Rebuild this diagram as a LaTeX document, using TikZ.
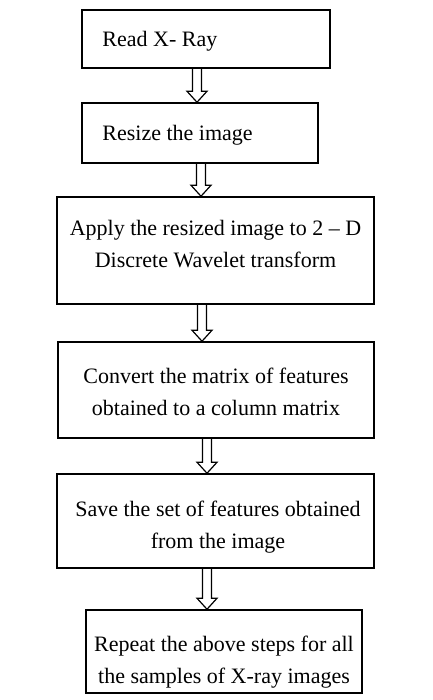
\documentclass[tikz,border=0pt]{standalone}
\usepackage{fontspec}
\setmainfont{Liberation Serif}
\usepackage{tikz}
\usetikzlibrary{calc, positioning}

% hollow double-line arrow from the bottom of #2 to the top of #3, at the x of #1
\newcommand{\hollowdown}[3]{%
	\draw[hollowarrow] let \p1=(#1 |- #2.south), \p2=(#1 |- #3.north) in
		(\x1-4.5pt,\y1) -- (\x1-4.5pt,\y2+11pt) -- (\x1-10pt,\y2+11pt) -- (\x2,\y2)
		-- (\x1+10pt,\y2+11pt) -- (\x1+4.5pt,\y2+11pt) -- (\x1+4.5pt,\y1);
}

\begin{document}
\begin{tikzpicture}[x=1pt, y=-1pt,
	stepbox/.style={draw, rectangle, line width=1.5pt, inner sep=0pt},
	steptext/.style={inner sep=0pt, align=center, font=\fontsize{22pt}{32pt}\selectfont},
	hollowarrow/.style={line width=1.2pt, line join=miter}]
	\useasboundingbox (0,0) rectangle (432,700);
	% Paths, nodes and wires:
	\node[stepbox, minimum width=248, minimum height=58](read) at (206, 39){} node[steptext, anchor=west](readtxt) at ([xshift=21pt, yshift=-2pt]read.west){Read X- Ray};
	\node[stepbox, minimum width=236, minimum height=60](resize) at (200, 133){} node[steptext, anchor=west](resizetxt) at ([xshift=21pt, yshift=-2pt]resize.west){Resize the image};
	\node[stepbox, minimum width=317, minimum height=107](apply) at (215.5, 250.5){} node[steptext, anchor=north](applytxt) at ([yshift=-24pt]apply.north){Apply the resized image to 2 – D\\Discrete Wavelet transform};
	\node[stepbox, minimum width=316, minimum height=96](convert) at (216, 390){} node[steptext, anchor=north](converttxt) at ([yshift=-27pt]convert.north){Convert the matrix of features\\obtained to a column matrix};
	\node[stepbox, minimum width=317, minimum height=94](save) at (215.5, 521){} node[steptext, anchor=north](savetxt) at ([xshift=2.5pt, yshift=-28pt]save.north){Save the set of features obtained\\from the image};
	\node[stepbox, minimum width=276, minimum height=83](repeat) at (224, 651.5){} node[steptext, anchor=north](repeattxt) at ([yshift=-27pt]repeat.north){Repeat the above steps for all\\the samples of X-ray images};
	\coordinate (A1) at (197, 0);
	\coordinate (A2) at (201, 0);
	\coordinate (A3) at (202, 0);
	\coordinate (A4) at (207, 0);
	\coordinate (A5) at (207, 0);
	\hollowdown{A1}{read}{resize}
	\hollowdown{A2}{resize}{apply}
	\hollowdown{A3}{apply}{convert}
	\hollowdown{A4}{convert}{save}
	\hollowdown{A5}{save}{repeat}
\end{tikzpicture}
\end{document}
